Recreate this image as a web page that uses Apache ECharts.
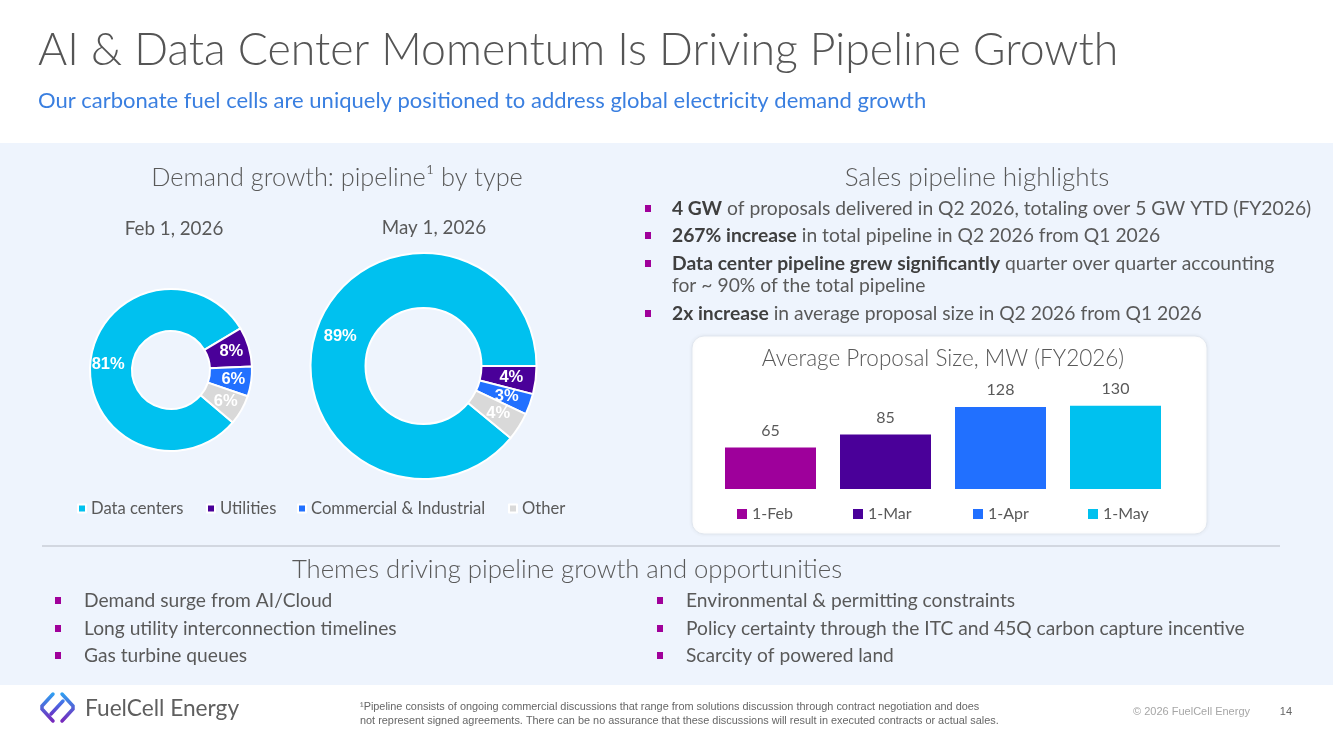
<!DOCTYPE html>
<html><head><meta charset="utf-8">
<script src="https://cdn.jsdelivr.net/npm/echarts@6/dist/echarts.min.js"></script>
<style>html,body{margin:0;padding:0;background:#fff;}#c{width:1333px;height:749px;}</style>
</head><body><div id="c"></div>
<script>
// ---- data ----
const pieNames = ['Data centers', 'Utilities', 'Commercial & Industrial', 'Other'];
const febShares = [81, 8, 6, 6];
const mayShares = [89, 4, 3, 4];
const barCategories = ['1-Feb', '1-Mar', '1-Apr', '1-May'];
const barValues = [65, 85, 128, 130];
const highlights = [
  ['4 GW', ' of proposals delivered in Q2 2026, totaling over 5 GW YTD (FY2026)'],
  ['267% increase', ' in total pipeline in Q2 2026 from Q1 2026'],
  ['Data center pipeline grew significantly', ' quarter over quarter accounting'],
  ['2x increase', ' in average proposal size in Q2 2026 from Q1 2026']
];
const themesLeft = ['Demand surge from AI/Cloud', 'Long utility interconnection timelines', 'Gas turbine queues'];
const themesRight = ['Environmental & permitting constraints', 'Policy certainty through the ITC and 45Q carbon capture incentive', 'Scarcity of powered land'];

const pieColors = ['#00C1EF', '#4A0099', '#2170FF', '#D9D9D9'];
const barColors = ['#9E009B', '#4A0099', '#2170FF', '#00C1EF'];
const FONT = 'Lato, "Noto Sans", sans-serif';
const NARROW = '"Liberation Sans Narrow", sans-serif';
const GREY = '#595959';

const chart = echarts.init(document.getElementById('c'));

function txt(x, y, text, size, opts) {
  opts = opts || {};
  return {
    type: 'text', z: 5,
    style: Object.assign({
      x: x, y: y, text: text, fontSize: size, fontFamily: FONT,
      fontWeight: opts.weight || 'normal', fill: opts.color || GREY,
      align: opts.align || 'left', verticalAlign: 'middle'
    }, opts.extra || {})
  };
}
function bullet(x, y) {
  return { type: 'rect', z: 5, shape: { x: x, y: y - 4, width: 6, height: 7 }, style: { fill: '#A0009A' } };
}

const logoGrad = function () {
  return new echarts.graphic.LinearGradient(0, 0, 0, 1, [{ offset: 0, color: '#2AA7F5' }, { offset: 1, color: '#7B1FB8' }]);
};

const graphics = [
  { type: 'rect', z: 0, shape: { x: 0, y: 143, width: 1333, height: 542 }, style: { fill: '#EEF4FD' } },
  { type: 'rect', z: 1, shape: { x: 692, y: 336, width: 515, height: 198, r: 12 },
    style: { fill: '#FFFFFF', stroke: '#E1E7EF', lineWidth: 1, shadowBlur: 4, shadowColor: 'rgba(0,0,0,0.06)' } },
  { type: 'line', z: 1, shape: { x1: 42, y1: 546, x2: 1280, y2: 546 }, style: { stroke: '#C9CED6', lineWidth: 1.5 } },
  txt(38, 51, 'AI & Data Center Momentum Is Driving Pipeline Growth', 44.6, { weight: 300, color: '#555555' }),
  txt(38, 101, 'Our carbonate fuel cells are uniquely positioned to address global electricity demand growth', 22, { color: '#3A7FE0' }),
  txt(337, 178, 'Demand growth: pipeline\u00B9 by type', 25.3, { weight: 300, align: 'center' }),
  txt(174, 229, 'Feb 1, 2026', 18.8, { align: 'center' }),
  txt(434, 228, 'May 1, 2026', 18.8, { align: 'center' }),
  txt(977, 178, 'Sales pipeline highlights', 26, { weight: 300, align: 'center' }),
  txt(943, 359, 'Average Proposal Size, MW (FY2026)', 22.5, { weight: 300, align: 'center' }),
  txt(567, 570, 'Themes driving pipeline growth and opportunities', 25.7, { weight: 300, align: 'center' }),
  txt(85, 709, 'FuelCell Energy', 22.7, { color: '#5F5F5F' }),
  txt(360, 707, '\u00B9Pipeline consists of ongoing commercial discussions that range from solutions discussion through contract negotiation and does', 10.9, { color: '#666666', extra: { fontFamily: NARROW } }),
  txt(360, 721, 'not represent signed agreements. There can be no assurance that these discussions will result in executed contracts or actual sales.', 10.9, { color: '#666666', extra: { fontFamily: NARROW } }),
  txt(1250, 712, '\u00A9 2026 FuelCell Energy', 11, { color: '#A6A6A6', align: 'right', extra: { fontFamily: NARROW } }),
  txt(1292, 712, '14', 11, { color: '#666666', align: 'right', extra: { fontFamily: NARROW } }),
  // logo
  { type: 'polyline', z: 5, shape: { points: [[53, 694], [42, 706], [42, 709], [53, 721]] },
    style: { stroke: logoGrad(), lineWidth: 3.5, lineCap: 'round', fill: null } },
  { type: 'polyline', z: 5, shape: { points: [[62, 694], [73, 706], [73, 709], [62, 721]] },
    style: { stroke: logoGrad(), lineWidth: 3.5, lineCap: 'round', fill: null } },
  { type: 'line', z: 5, shape: { x1: 63, y1: 701, x2: 51, y2: 714 },
    style: { stroke: new echarts.graphic.LinearGradient(0, 0, 0, 1, [{ offset: 0, color: '#3B86F0' }, { offset: 1, color: '#6A2BC4' }]), lineWidth: 3.5, lineCap: 'round' } }
];

const hlY = [209, 236, 264, 314];
highlights.forEach(function (h, i) {
  graphics.push(bullet(645, hlY[i]));
  graphics.push(txt(672, hlY[i], '{b|' + h[0] + '}' + h[1], 19.3, {
    extra: { rich: { b: { fontSize: 19.3, fontFamily: FONT, fontWeight: 'bold', fill: '#3F3F3F' } } }
  }));
});
graphics.push(txt(672, 286, 'for ~ 90% of the total pipeline', 19.3));
themesLeft.forEach(function (t, i) {
  const y = [601, 629, 656][i];
  graphics.push(bullet(55, y));
  graphics.push(txt(84, y, t, 19.2));
});
themesRight.forEach(function (t, i) {
  const y = [601, 629, 656][i];
  graphics.push(bullet(657, y));
  graphics.push(txt(686, y, t, 19.2));
});

function pieData(vals) {
  return pieNames.map(function (n, i) { return { name: n, value: vals[i], itemStyle: { color: pieColors[i] } }; });
}
const pieCommon = {
  type: 'pie', clockwise: true, avoidLabelOverlap: false,
  itemStyle: { borderColor: '#FFFFFF', borderWidth: 2 },
  label: { show: true, position: 'inside', formatter: '{c}%', color: '#FFFFFF', fontSize: 16.5, fontWeight: 'bold', fontFamily: '"Liberation Sans", Arial, sans-serif' },
  labelLine: { show: false }, emphasis: { disabled: true }
};

const pieLegendLeft = [77, 206, 297, 508];
const barLegendLeft = [737, 853, 973, 1088];
const legends = pieNames.map(function (n, i) {
  return { data: [n], left: pieLegendLeft[i], top: 500, padding: 0, icon: 'rect', itemWidth: 8, itemHeight: 8,
    textStyle: { color: GREY, fontSize: 16.6, fontFamily: FONT }, selectedMode: false };
}).concat(barCategories.map(function (n, i) {
  return { data: [n], left: barLegendLeft[i], top: 506, padding: 0, icon: 'rect', itemWidth: 10, itemHeight: 10,
    textStyle: { color: GREY, fontSize: 16, fontFamily: FONT }, selectedMode: false };
}));

const barSeries = barCategories.map(function (c, i) {
  return {
    type: 'bar', name: c, barWidth: 91, barGap: '-100%',
    data: barValues.map(function (v, j) { return j === i ? v : '-'; }),
    itemStyle: { color: barColors[i] },
    label: { show: true, position: 'top', distance: 9, color: GREY, fontSize: 16, fontFamily: FONT },
    emphasis: { disabled: true }
  };
});

chart.setOption({
  animation: false,
  backgroundColor: '#FFFFFF',
  graphic: { elements: graphics },
  legend: legends,
  grid: { left: 713, top: 393, width: 460, height: 96 },
  xAxis: { type: 'category', data: barCategories, show: false },
  yAxis: { type: 'value', min: 0, max: 150, show: false },
  series: [
    Object.assign({}, pieCommon, { name: 'Feb 1, 2026', center: [171, 370], radius: [39, 81], startAngle: 319.7, data: pieData(febShares) }),
    Object.assign({}, pieCommon, { name: 'May 1, 2026', center: [423.5, 366], radius: [58, 113], startAngle: 320.4, data: pieData(mayShares) })
  ].concat(barSeries)
});
</script></body></html>
